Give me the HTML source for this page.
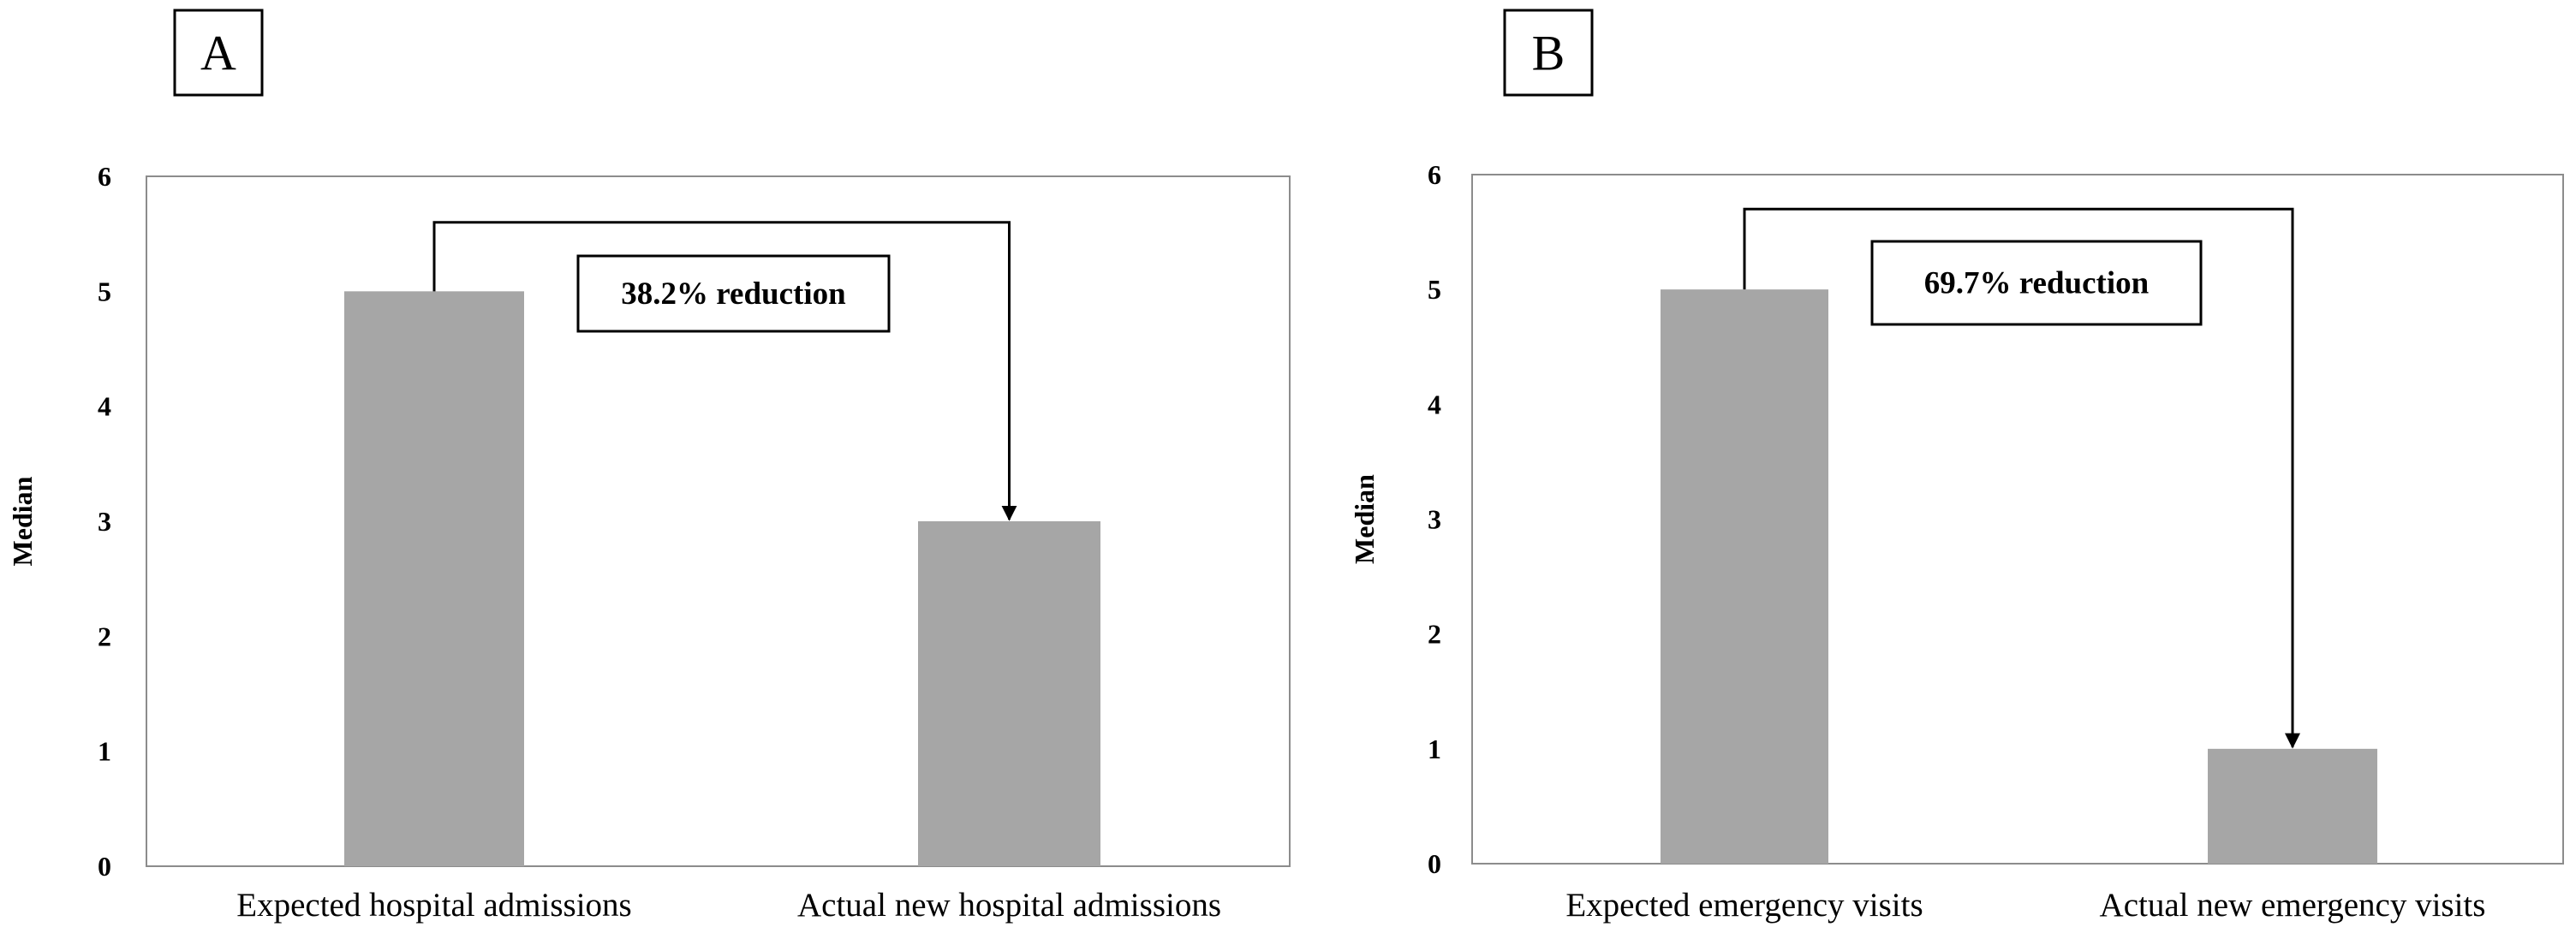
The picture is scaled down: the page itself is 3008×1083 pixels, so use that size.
<!DOCTYPE html>
<html><head><meta charset="utf-8"><style>
html,body{margin:0;padding:0;background:#fff;}
svg{display:block;font-family:"Liberation Serif",serif;}
</style></head><body>
<svg id="chart" width="3008" height="1083" viewBox="0 0 3008 1083" xmlns="http://www.w3.org/2000/svg"></svg>
<script>
const panelLetters = ["A", "B"];
const categoriesA = ["Expected hospital admissions", "Actual new hospital admissions"];
const valuesA = [5, 3];
const categoriesB = ["Expected emergency visits", "Actual new emergency visits"];
const valuesB = [5, 1];
const annotations = ["38.2% reduction", "69.7% reduction"];
const bracketLevels = [5.6, 5.7];
const yTicks = [0, 1, 2, 3, 4, 5, 6];
const yTitle = "Median";

const svg = document.getElementById('chart');
const NS = 'http://www.w3.org/2000/svg';
function mk(tag, attrs, parent) {
  const e = document.createElementNS(NS, tag);
  for (const k in attrs) e.setAttribute(k, attrs[k]);
  (parent || svg).appendChild(e);
  return e;
}
const panels = [
  {left:171, right:1506, top:206, bottom:1012, bars:[[402,612],[1072,1285]], box:[675,299,1038,387], letterBox:[204,12,306,111], tickX:122, titleX:27, cats:categoriesA, vals:valuesA},
  {left:1719, right:2993, top:204, bottom:1009, bars:[[1939,2135],[2578,2776]], box:[2186,282,2570,379], letterBox:[1757,12,1859,111], tickX:1675, titleX:1594, cats:categoriesB, vals:valuesB}
];
mk('defs', {}).innerHTML = '<marker id="arr" viewBox="0 0 10 10" refX="9" refY="5" markerWidth="6" markerHeight="6" orient="auto"><path d="M0,0 L10,5 L0,10 z" fill="#000"/></marker>';

panels.forEach((p, i) => {
  const g = mk('g', {});
  
  
  const y = v => p.bottom - (v / 6) * (p.bottom - p.top);

  const lb = mk('rect', {x:p.letterBox[0], y:p.letterBox[1], width:p.letterBox[2]-p.letterBox[0], height:p.letterBox[3]-p.letterBox[1], fill:'none', stroke:'#000', 'stroke-width':3}, g);
  
  
  const lt = mk('text', {x:(p.letterBox[0]+p.letterBox[2])/2, y:(p.letterBox[1]+p.letterBox[3])/2+20, 'text-anchor':'middle', 'font-size':58}, g);
  lt.textContent = panelLetters[i];
  
  

  const fr = mk('rect', {x:p.left, y:p.top, width:p.right-p.left, height:p.bottom-p.top, fill:'none', stroke:'#8c8c8c', 'stroke-width':2}, g);
  
  

  yTicks.forEach(t => {
    const tx = mk('text', {x:p.tickX, y:y(t)+11, 'text-anchor':'middle', 'font-size':32, 'font-weight':'bold'}, g);
    tx.textContent = t;
    
    
  });
  const yt = mk('text', {x:p.titleX, y:(p.top+p.bottom)/2, 'text-anchor':'middle', 'font-size':32, 'font-weight':'bold', transform:'rotate(-90 '+(p.titleX)+' '+((p.top+p.bottom)/2)+')', dy:10}, g);
  yt.textContent = yTitle;
  
  

  p.vals.forEach((v, j) => {
    const b = p.bars[j];
    const r = mk('rect', {x:b[0], y:y(v), width:b[1]-b[0], height:p.bottom-y(v), fill:'#a6a6a6'}, g);
    
    
    const xl = mk('text', {x:(b[0]+b[1])/2, y:1070, 'text-anchor':'middle', 'font-size':39}, g);
    xl.textContent = p.cats[j];
    
    
  });

  const x1 = (p.bars[0][0]+p.bars[0][1])/2, x2 = (p.bars[1][0]+p.bars[1][1])/2;
  const yb = y(bracketLevels[i]);
  const br = mk('path', {d:`M${x1},${y(p.vals[0])} L${x1},${yb} L${x2},${yb} L${x2},${y(p.vals[1])-2}`, fill:'none', stroke:'#000', 'stroke-width':3, 'marker-end':'url(#arr)'}, g);
  
  

  const bx = mk('rect', {x:p.box[0], y:p.box[1], width:p.box[2]-p.box[0], height:p.box[3]-p.box[1], fill:'#fff', stroke:'#000', 'stroke-width':3}, g);
  
  
  const at = mk('text', {x:(p.box[0]+p.box[2])/2, y:(p.box[1]+p.box[3])/2+12, 'text-anchor':'middle', 'font-size':37, 'font-weight':'bold'}, g);
  at.textContent = annotations[i];
  
  
});
</script>
</body></html>
